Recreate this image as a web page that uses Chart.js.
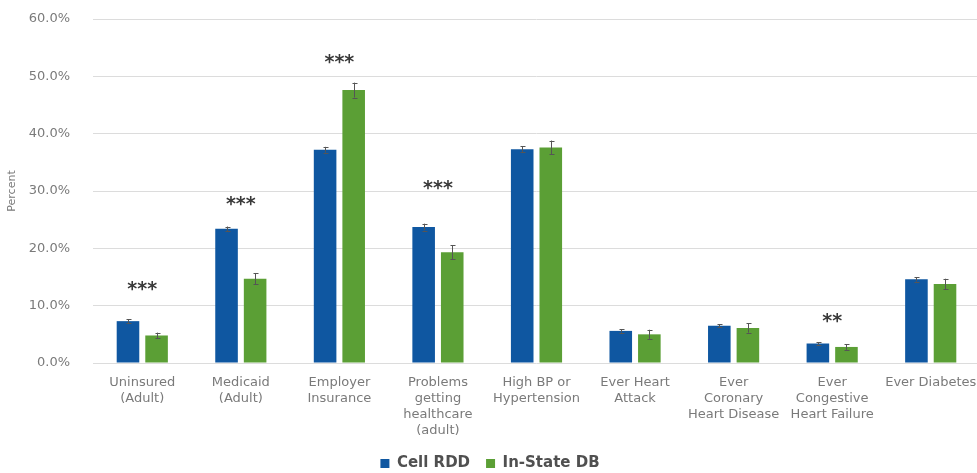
<!DOCTYPE html>
<html>
<head>
<meta charset="utf-8">
<script src="https://cdn.jsdelivr.net/npm/chart.js@4.4.0/dist/chart.umd.min.js"></script>
<style>
  html, body { margin: 0; padding: 0; background: #ffffff; overflow: hidden; }
  #wrap { width: 980px; height: 473px; position: relative; }
</style>
</head>
<body>
<div id="wrap"><canvas id="c" width="980" height="473"></canvas></div>
<script>
// ---- data ----
const categories = [
  ['Uninsured', '(Adult)'],
  ['Medicaid', '(Adult)'],
  ['Employer', 'Insurance'],
  ['Problems', 'getting', 'healthcare', '(adult)'],
  ['High BP or', 'Hypertension'],
  ['Ever Heart', 'Attack'],
  ['Ever', 'Coronary', 'Heart Disease'],
  ['Ever', 'Congestive', 'Heart Failure'],
  ['Ever Diabetes']
];
const seriesNames = ['Cell RDD', 'In-State DB'];
const cellRDD   = [7.3, 23.4, 37.2, 23.7, 37.3, 5.6, 6.5, 3.4, 14.6];
const inStateDB = [4.8, 14.7, 47.6, 19.3, 37.6, 5.0, 6.1, 2.8, 13.8];
const cellRDDErr   = [0.3, 0.4, 0.5, 0.6, 0.5, 0.3, 0.3, 0.2, 0.4];
const inStateDBErr = [0.5, 1.0, 1.3, 1.2, 1.2, 0.8, 0.8, 0.5, 0.9];
const sigLabels  = ['***', '***', '***', '***', '', '', '', '**', ''];
const sigLevels  = [13.5, 28.3, 53.1, 31.1, null, null, null, 7.9, null];
const yTicks = [0, 10, 20, 30, 40, 50, 60];

// ---- plugins ----
const errorBarPlugin = {
  id: 'errorBars',
  afterDatasetsDraw(chart) {
    const ctx = chart.ctx;
    const y = chart.scales.y;
    const errs = [cellRDDErr, inStateDBErr];
    ctx.save();
    ctx.strokeStyle = '#555555';
    ctx.lineWidth = 1;
    chart.data.datasets.forEach((ds, di) => {
      const meta = chart.getDatasetMeta(di);
      meta.data.forEach((bar, i) => {
        const v = ds.data[i], e = errs[di][i];
        const yHi = y.getPixelForValue(v + e);
        const yLo = y.getPixelForValue(v - e);
        const x = Math.round(bar.x) + 0.5;
        ctx.beginPath();
        ctx.moveTo(x, yHi); ctx.lineTo(x, yLo);
        ctx.moveTo(x - 2, Math.round(yHi) + 0.5); ctx.lineTo(x + 3, Math.round(yHi) + 0.5);
        ctx.moveTo(x - 2, Math.round(yLo) + 0.5); ctx.lineTo(x + 3, Math.round(yLo) + 0.5);
        ctx.stroke();
      });
    });
    // significance markers
    ctx.fillStyle = '#3a3a3a';
    ctx.font = 'bold 19px "DejaVu Sans"';
    ctx.textAlign = 'center';
    ctx.textBaseline = 'alphabetic';
    const xs = chart.scales.x;
    sigLabels.forEach((s, i) => {
      if (!s || sigLevels[i] == null) return;
      const cx = xs.getPixelForValue(i);
      const cy = y.getPixelForValue(sigLevels[i]);
      const m = ctx.measureText(s);
      const off = (m.actualBoundingBoxAscent - m.actualBoundingBoxDescent) / 2;
      ctx.fillText(s, cx, cy + off);
    });
    ctx.restore();
  }
};

// ---- chart ----
Chart.defaults.font.family = '"DejaVu Sans", sans-serif';
new Chart(document.getElementById('c'), {
  type: 'bar',
  data: {
    labels: categories,
    datasets: [
      { label: seriesNames[0], data: cellRDD, backgroundColor: '#0f57a1', borderWidth: 0,
        categoryPercentage: 0.58, barPercentage: 0.79 },
      { label: seriesNames[1], data: inStateDB, backgroundColor: '#5b9f35', borderWidth: 0,
        categoryPercentage: 0.58, barPercentage: 0.79 }
    ]
  },
  options: {
    responsive: false,
    animation: false,
    devicePixelRatio: 1,
    layout: { padding: { top: 19, right: 0, bottom: -8, left: 0 } },
    plugins: {
      legend: {
        position: 'bottom',
        labels: {
          boxWidth: 9, boxHeight: 9, padding: 16,
          color: '#505050',
          font: { size: 15, weight: 'bold' }
        }
      },
      tooltip: { enabled: false }
    },
    scales: {
      x: {
        grid: { display: false },
        border: { display: false },
        ticks: {
          color: '#7a7a7a', padding: 3, maxRotation: 0, minRotation: 0, autoSkip: false,
          font: { size: 13, lineHeight: 1.25 }
        },
        afterFit(scale) { scale.height = 77; }
      },
      y: {
        min: 0, max: 60,
        afterBuildTicks(scale) { scale.ticks = yTicks.map(v => ({ value: v })); },
        grid: { color: '#dcdcdc', drawTicks: true, tickLength: 20, tickColor: 'rgba(0,0,0,0)', lineWidth: 1 },
        border: { display: false },
        ticks: {
          color: '#7a7a7a', padding: 3,
          font: { size: 13 },
          callback: v => v.toFixed(1) + '%'
        },
        title: {
          display: true, text: 'Percent', color: '#7a7a7a',
          font: { size: 11 }, padding: { top: 6, bottom: 0 }
        },
        afterFit(scale) { scale.width = 93; }
      }
    }
  },
  plugins: [errorBarPlugin]
});
</script>
</body>
</html>
